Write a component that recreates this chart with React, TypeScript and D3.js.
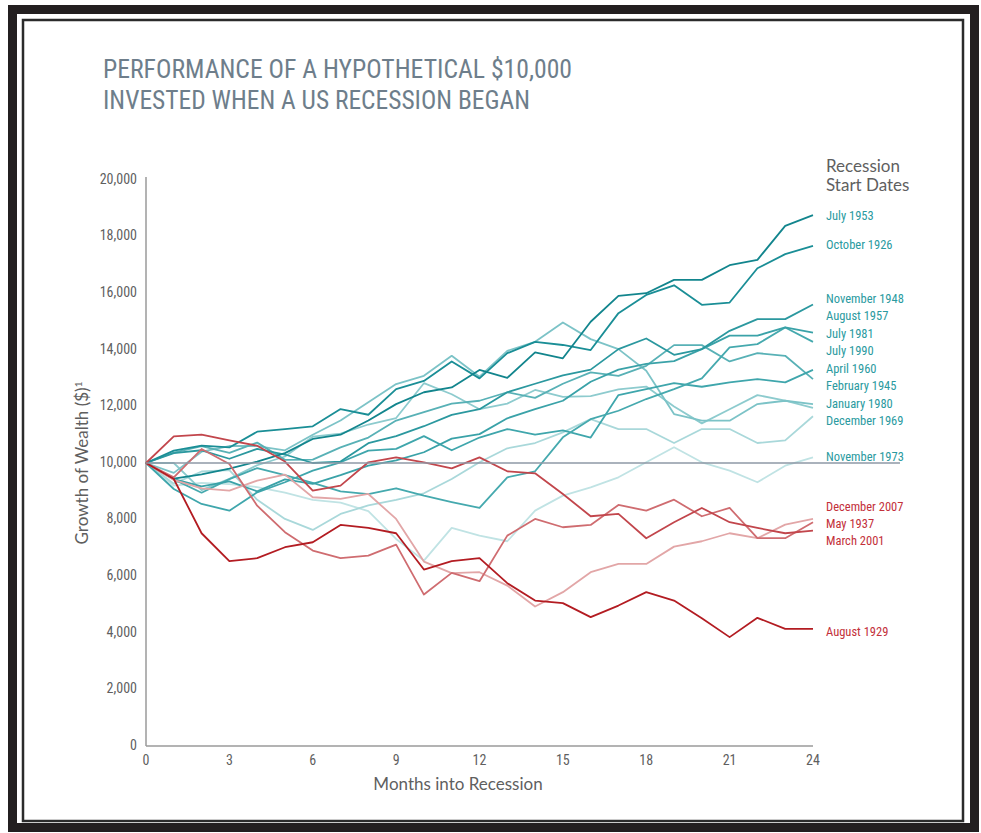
import React from "react";
import * as d3 from "d3";

const months: number[] = [0,1,2,3,4,5,6,7,8,9,10,11,12,13,14,15,16,17,18,19,20,21,22,23,24];
const xTicks: number[] = [0,3,6,9,12,15,18,21,24];
const yTicks: number[] = [0,2000,4000,6000,8000,10000,12000,14000,16000,18000,20000];

const july1953 = [10000,9450,9600,9800,10050,10350,10850,11000,11500,12080,12500,12670,13290,13010,13910,13700,14990,15906,16000,16470,16470,16990,17180,18380,18760];
const october1926 = [10000,10435,10611,10550,11105,11200,11295,11906,11705,12610,12900,13590,12990,13880,14280,14170,13990,15295,15940,16280,15590,15670,16880,17380,17670];
const november1948 = [10000,10350,10450,10150,10500,10300,10000,10050,10700,10950,11300,11700,11900,12500,12800,13100,13300,14024,14400,13823,14024,14670,15083,15083,15600];
const august1957 = [10000,9430,9170,9350,9000,9420,9260,9570,9910,10090,10380,10860,11020,11580,11900,12200,12870,13300,13500,13600,14024,14500,14500,14790,14610];
const july1981 = [10000,9420,8950,9430,9820,9570,9300,9000,8900,9107,8846,8620,8411,9495,9707,10907,11550,11846,12260,12612,12990,14084,14200,14790,14280];
const july1990 = [10000,9082,8553,8316,8964,9319,9728,10025,10435,10500,10950,10450,10900,11200,11000,11150,10900,12400,12612,12824,12694,12848,12965,12848,13293];
const april1960 = [10000,10370,10600,10360,10720,10110,10120,10550,10900,11500,11800,12100,12200,12500,12300,12800,13200,13082,13435,14165,14165,13590,13883,13788,12965];
const february1945 = [10000,9650,10400,10600,10600,10450,11000,11500,12143,12789,13082,13788,13047,13964,14282,14967,14377,14024,13258,11730,11494,11494,12083,12200,12083];
const january1980 = [10000,10000,9040,9440,9920,10230,10930,11040,11360,11590,12820,12430,11900,12100,12580,12340,12360,12600,12700,12000,11400,11900,12400,12200,11950];
const december1969 = [10000,9270,9700,9750,8700,8023,7635,8200,8500,8700,8930,9435,10025,10519,10706,11083,11550,11200,11200,10706,11200,11200,10706,10800,11650];
const november1973 = [10000,9200,9300,9250,9150,8950,8700,8600,8300,7317,6551,7706,7434,7235,8316,8846,9142,9495,10025,10554,10025,9728,9319,9905,10200];
const december2007 = [10000,9400,9100,9022,9376,9588,8789,8729,8906,8023,6516,6106,6141,5669,4927,5436,6141,6435,6435,7045,7235,7518,7342,7822,8023];
const may1937 = [10000,9495,10494,9965,8493,7554,6904,6636,6728,7116,5351,6117,5824,7434,8023,7730,7811,8517,8316,8704,8118,8411,7342,7342,7907];
const march2001 = [10000,10940,11000,10800,10611,10050,9022,9200,10025,10200,10025,9813,10200,9707,9636,8906,8118,8200,7342,7907,8411,7907,7706,7518,7610];
const august1929 = [10000,9435,7518,6530,6636,7024,7200,7811,7706,7518,6234,6530,6636,5753,5139,5047,4553,4963,5436,5139,4518,3847,4529,4140,4140];

const seriesNames = ["July 1953","October 1926","November 1948","August 1957","July 1981","July 1990","April 1960","February 1945","January 1980","December 1969","November 1973","December 2007","May 1937","March 2001","August 1929"];
const seriesValues = [july1953,october1926,november1948,august1957,july1981,july1990,april1960,february1945,january1980,december1969,november1973,december2007,may1937,march2001,august1929];
const seriesColors = ["#12858d","#1a8e96","#2b989f","#3aa2a8","#45a9ae","#3fa6ac","#58b1b6","#7cc3c7","#8dcbce","#a9d8da","#c0e3e4","#e2a6a7","#cf6c70","#c2464c","#b31c22"];
const labelValues = [18695,17672,15767,15168,14533,13933,13298,12698,12063,11464,10194,8430,7831,7231,4021];
const drawOrder = [10,9,8,7,6,5,4,3,2,1,0,11,12,13,14];

const TEAL_TEXT = "#2a9aa0";
const RED_TEXT = "#c3303a";
const GREY = "#5f5f5f";
const CONDENSED = "'Liberation Sans Narrow', 'Arial Narrow', 'Roboto Condensed', sans-serif";
const SANS = "Lato, 'Open Sans', sans-serif";

export default function App() {
  const x = d3.scaleLinear().domain([0, 24]).range([146, 813]);
  const y = d3.scaleLinear().domain([0, 20000]).range([746, 180]);
  const line = d3.line<number>().x((_, i) => x(months[i])).y((d) => y(d));
  const fmt = d3.format(",");

  return (
    <div style={{ position: "absolute", left: 0, top: 0 }}>
      <svg width={981} height={833} style={{ display: "block", background: "#fff" }}>
        <rect x={12.5} y={9.5} width={962} height={818} fill="none" stroke="#231f20" strokeWidth={9} />
        <rect x={23} y={20} width={940} height={801} fill="none" stroke="#2b2b2b" strokeWidth={2.5} />

        <text x={103} y={78} fontFamily={CONDENSED} fontSize={25} fill="#6e7e8b" textLength={469} lengthAdjust="spacingAndGlyphs">PERFORMANCE OF A HYPOTHETICAL $10,000</text>
        <text x={103} y={109} fontFamily={CONDENSED} fontSize={25} fill="#6e7e8b" textLength={427} lengthAdjust="spacingAndGlyphs">INVESTED WHEN A US RECESSION BEGAN</text>

        {yTicks.map((t) => (
          <text key={t} x={137} y={y(t)} textAnchor="end" dominantBaseline="middle" fontFamily={CONDENSED} fontSize={14} fill={GREY}>{fmt(t)}</text>
        ))}
        {xTicks.map((t) => (
          <text key={t} x={x(t)} y={761} textAnchor="middle" dominantBaseline="middle" fontFamily={CONDENSED} fontSize={14} fill={GREY}>{t}</text>
        ))}

        <line x1={x(0)} x2={x(0)} y1={y(20000) - 3} y2={y(0)} stroke="#9a9a9a" strokeWidth={1.5} />
        <line x1={x(0)} x2={x(24)} y1={y(0)} y2={y(0)} stroke="#9a9a9a" strokeWidth={1.5} />

        <text transform={`translate(88,${y(10000)}) rotate(-90)`} textAnchor="middle" fontFamily={SANS} fontSize={17} fill={GREY}>
          Growth of Wealth ($)<tspan fontSize={10} dy={-6}>1</tspan>
        </text>
        <text x={458} y={790} textAnchor="middle" fontFamily={SANS} fontSize={17} fill={GREY}>Months into Recession</text>

        {drawOrder.map((i) => (
          <path key={seriesNames[i]} d={line(seriesValues[i]) || ""} fill="none" stroke={seriesColors[i]} strokeWidth={1.8} strokeLinejoin="round" />
        ))}

        <line x1={x(0)} x2={900} y1={y(10000)} y2={y(10000)} stroke="#8e99a6" strokeWidth={1.6} />

        <text x={826} y={172} fontFamily={SANS} fontSize={17} fill={GREY}>Recession</text>
        <text x={826} y={191} fontFamily={SANS} fontSize={17} fill={GREY}>Start Dates</text>

        {seriesNames.map((n, i) => (
          <text key={n} x={826} y={y(labelValues[i])} dominantBaseline="middle" fontFamily={CONDENSED} fontSize={12.5} fill={i < 11 ? TEAL_TEXT : RED_TEXT}>{n}</text>
        ))}
      </svg>
    </div>
  );
}
